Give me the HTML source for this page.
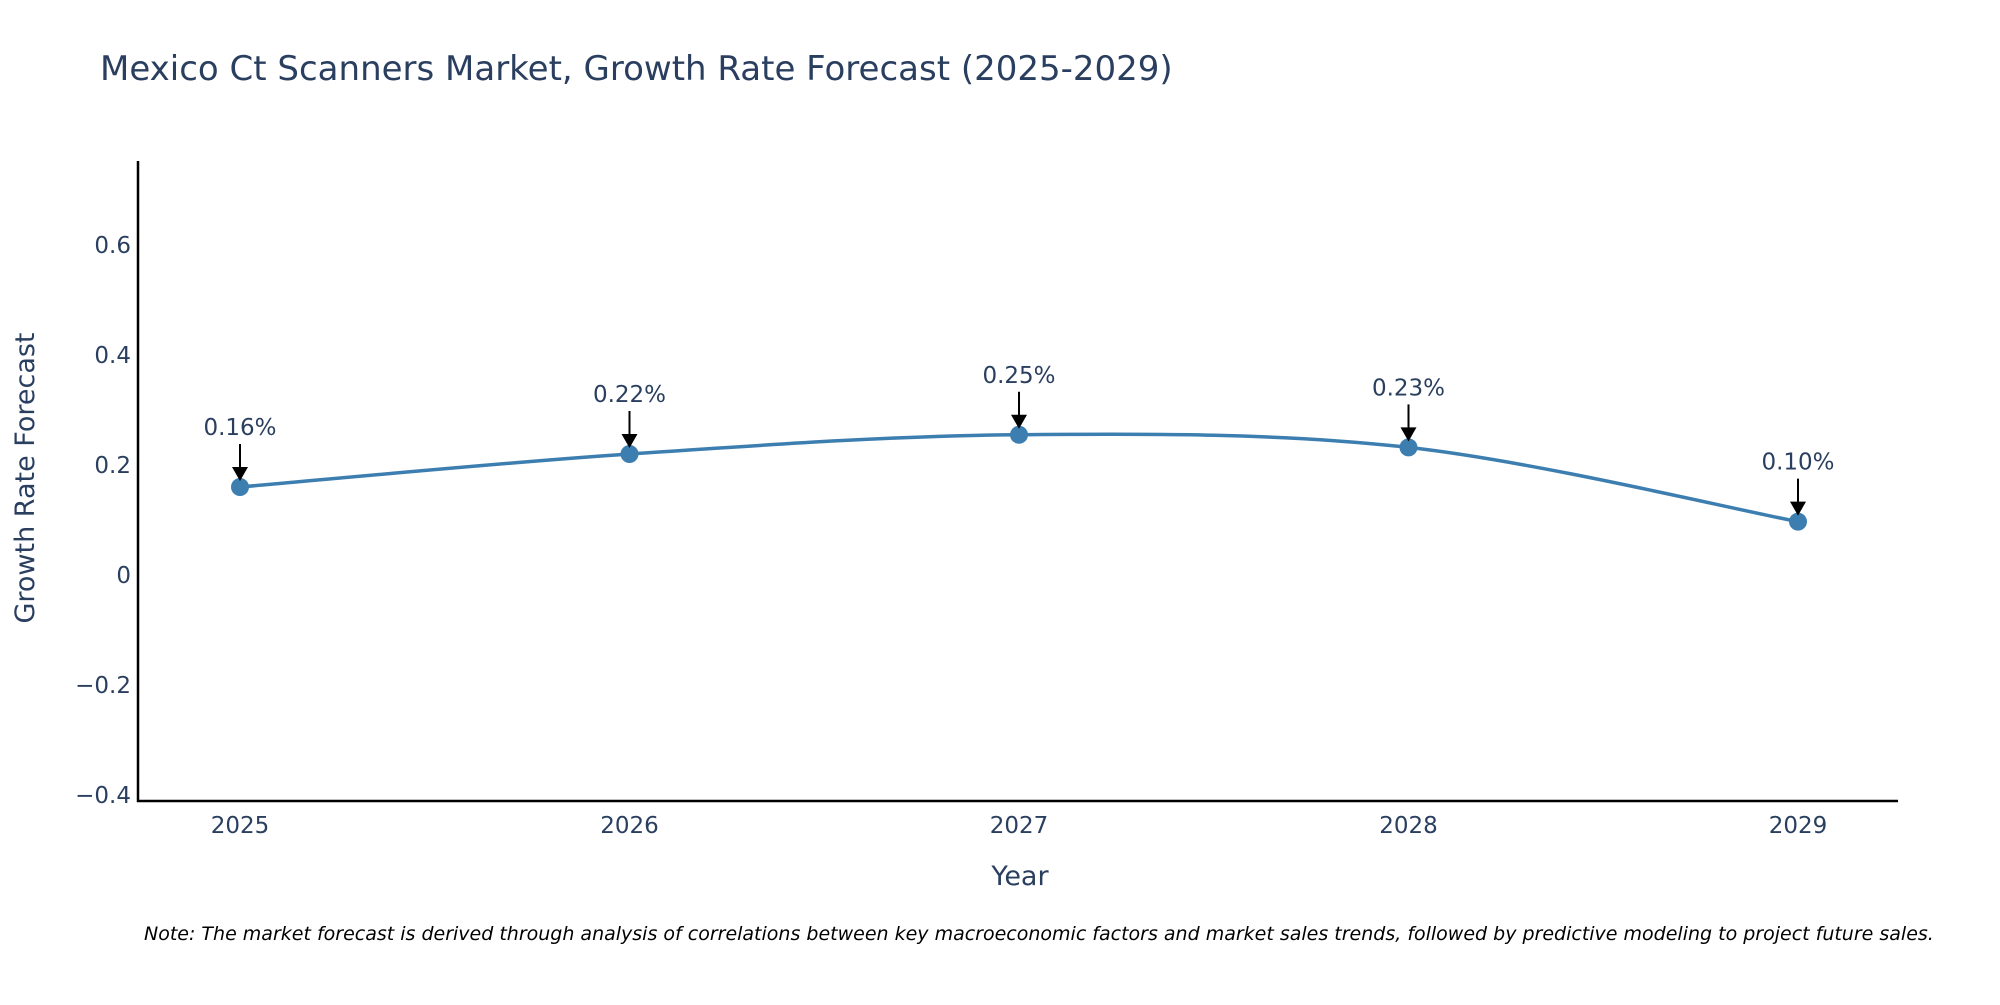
<!DOCTYPE html>
<html><head><meta charset="utf-8"><style>
body{margin:0;background:#fff;}
svg text{font-family:"DejaVu Sans","Liberation Sans",sans-serif;}
</style></head><body>
<svg id="chart" width="2000" height="1000" xmlns="http://www.w3.org/2000/svg">
<text x="100" y="80" font-size="34" fill="#2a3f5f">Mexico Ct Scanners Market, Growth Rate Forecast (2025-2029)</text>
<g id="yticks"></g>
<g id="xticks"></g>
<line x1="138" y1="161" x2="138" y2="802" stroke="#000" stroke-width="2.5"/>
<line x1="137" y1="801" x2="1898" y2="801" stroke="#000" stroke-width="2.5"/>
<g id="series"></g>
<text transform="translate(34,478) rotate(-90)" text-anchor="middle" font-size="27" fill="#2a3f5f">Growth Rate Forecast</text>
<text x="1020" y="885" text-anchor="middle" font-size="27" fill="#2a3f5f">Year</text>
<text x="144" y="940" font-size="19" font-style="italic" fill="#000">Note: The market forecast is derived through analysis of correlations between key macroeconomic factors and market sales trends, followed by predictive modeling to project future sales.</text>
</svg>
<script>
const categories = ["2025","2026","2027","2028","2029"];
const values = [0.16, 0.22, 0.255, 0.232, 0.097];
const labels = ["0.16%","0.22%","0.25%","0.23%","0.10%"];
const yTicks = [-0.4,-0.2,0,0.2,0.4,0.6];
const yTickLabels = ["\u22120.4","\u22120.2","0","0.2","0.4","0.6"];
const NS="http://www.w3.org/2000/svg";
const xS=i=>240+i*389.5;
const yS=v=>575-v*550;
function mk(t,a,p){const e=document.createElementNS(NS,t);for(const k in a)e.setAttribute(k,a[k]);p.appendChild(e);return e;}
const yt=document.getElementById('yticks');
yTicks.forEach((v,i)=>{const t=mk('text',{x:131,y:yS(v)+8,'text-anchor':'end','font-size':23,fill:'#2a3f5f'},yt);t.textContent=yTickLabels[i];

});
const xt=document.getElementById('xticks');
categories.forEach((c,i)=>{const t=mk('text',{x:xS(i),y:833,'text-anchor':'middle','font-size':23,fill:'#2a3f5f'},xt);t.textContent=c;

});
const g=document.getElementById('series');
const pts=values.map((v,i)=>[xS(i),yS(v)]);
let d=`M${pts[0][0]},${pts[0][1]}`;
for(let i=0;i<pts.length-1;i++){const p0=pts[Math.max(i-1,0)],p1=pts[i],p2=pts[i+1],p3=pts[Math.min(i+2,pts.length-1)];const s=1/6;
d+=` C${p1[0]+(p2[0]-p0[0])*s},${p1[1]+(p2[1]-p0[1])*s} ${p2[0]-(p3[0]-p1[0])*s},${p2[1]-(p3[1]-p1[1])*s} ${p2[0]},${p2[1]}`;}
const line=mk('path',{d:d,fill:'none',stroke:'#3d7eb0','stroke-width':3.5},g);


pts.forEach((p,i)=>{
const c=mk('circle',{cx:p[0],cy:p[1],r:9,fill:'#3d7eb0'},g);


const a=mk('line',{x1:p[0],y1:p[1]-43,x2:p[0],y2:p[1]-16,stroke:'#000','stroke-width':2},g);


const h=mk('polygon',{points:`${p[0]-8},${p[1]-20} ${p[0]+8},${p[1]-20} ${p[0]},${p[1]-6}`,fill:'#000'},g);


const t=mk('text',{x:p[0],y:p[1]-52,'text-anchor':'middle','font-size':23,fill:'#2a3f5f'},g);t.textContent=labels[i];


});
</script>
</body></html>
